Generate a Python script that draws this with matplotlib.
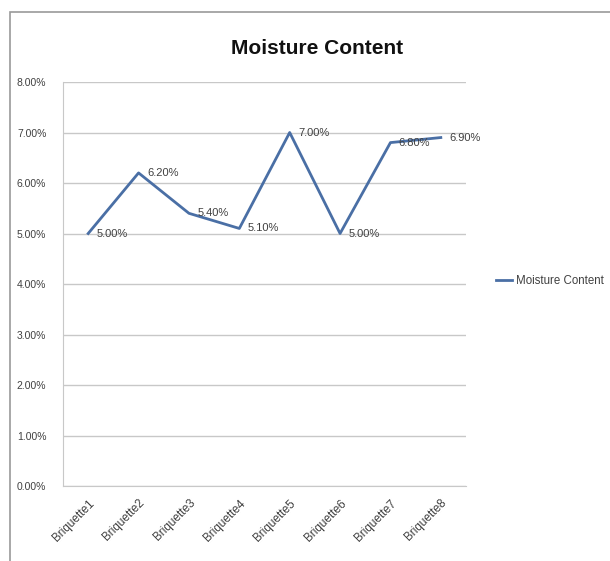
import matplotlib
matplotlib.use('Agg')
import matplotlib.pyplot as plt
from matplotlib.patches import Rectangle
from matplotlib.ticker import FuncFormatter

CATEGORIES = ['Briquette1', 'Briquette2', 'Briquette3', 'Briquette4',
              'Briquette5', 'Briquette6', 'Briquette7', 'Briquette8']
MOISTURE = [5.00, 6.20, 5.40, 5.10, 7.00, 5.00, 6.80, 6.90]  # percent
SERIES_NAME = 'Moisture Content'

LINE_COLOR = '#4a6fa5'
TEXT_COLOR = '#404040'

plt.rcParams['font.family'] = ['Liberation Sans', 'DejaVu Sans']


def main():
    fig = plt.figure(figsize=(6.10, 5.61), dpi=100)
    W, H = 610, 561
    # plot area in pixels: x 63..466, y 82..486
    ax = fig.add_axes([63 / W, 1 - 486 / H, (466 - 63) / W, (486 - 82) / H])

    xs = list(range(len(CATEGORIES)))
    ax.plot(xs, MOISTURE, '-', color=LINE_COLOR, linewidth=2, label=SERIES_NAME)
    for x, y in zip(xs, MOISTURE):
        ax.annotate(f'{y:.2f}%', (x, y), textcoords='offset points', xytext=(6, 0),
                    ha='left', va='center', fontsize=8, color=TEXT_COLOR)

    ax.set_xlim(-0.5, len(CATEGORIES) - 0.5)
    ax.set_ylim(0, 8)
    ax.set_yticks(range(0, 9))
    ax.yaxis.set_major_formatter(FuncFormatter(lambda v, _: f'{v:.2f}%'))
    ax.set_xticks(xs)
    ax.set_xticklabels(CATEGORIES, rotation=45, ha='right', rotation_mode='anchor',
                       fontsize=8.5, color=TEXT_COLOR)
    ax.tick_params(axis='y', labelsize=7.5, labelcolor=TEXT_COLOR, length=0, pad=12)
    ax.tick_params(axis='x', length=0, pad=8)
    ax.grid(axis='y', color='#c8c8c8', linewidth=1)
    ax.set_axisbelow(True)
    for side in ('top', 'right'):
        ax.spines[side].set_visible(False)
    ax.spines['left'].set_color('#c8c8c8')
    ax.spines['bottom'].set_color('#c8c8c8')

    fig.text(317 / W, 1 - 48 / H, 'Moisture Content', ha='center', va='center',
             fontsize=15, fontweight='bold', color='#111111')

    fig.legend(loc='center left', bbox_to_anchor=(496 / W, 1 - 281 / H), frameon=False,
               fontsize=8.3, handlelength=1.4, handletextpad=0.3, labelcolor=TEXT_COLOR,
               borderpad=0, borderaxespad=0)

    # outer chart frame (only left and top edges fall inside the image)
    fig.patches.append(Rectangle((10 / W, -0.1), 1.2, 1 - 12 / H + 0.1,
                                 transform=fig.transFigure, fill=False,
                                 edgecolor='#9a9a9a', linewidth=1.2))

    fig.savefig('out.png', dpi=100)


if __name__ == '__main__':
    main()
